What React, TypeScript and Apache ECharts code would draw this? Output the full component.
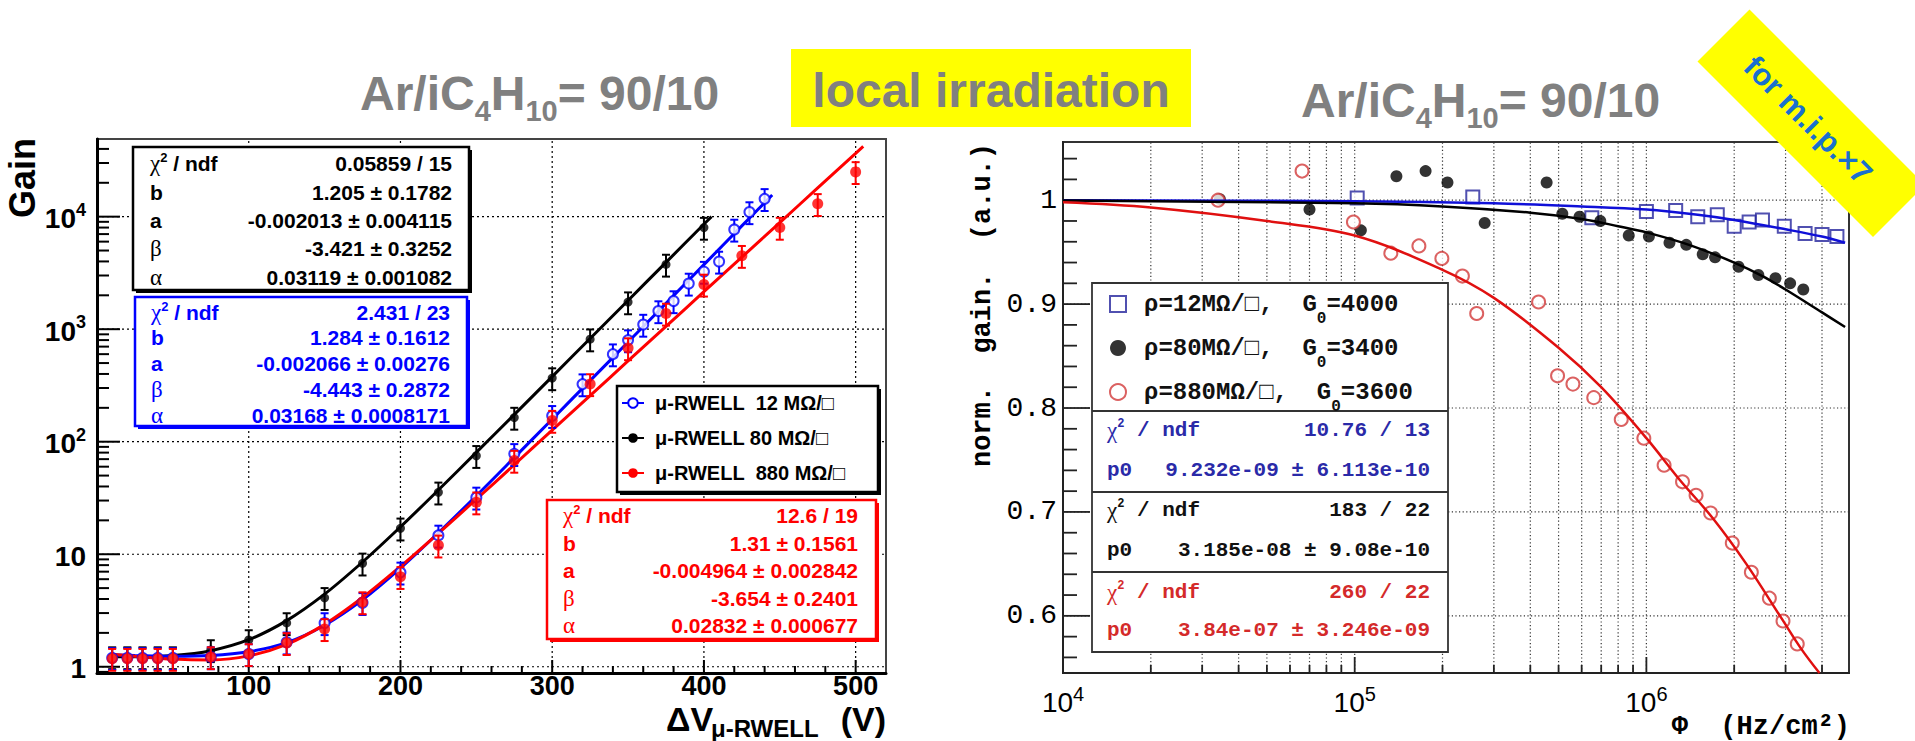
import React, { useEffect, useRef } from "react";
import * as echarts from "echarts";

const SANS = "'Liberation Sans', Arial, Helvetica, sans-serif";
const MONO = "'Liberation Mono', 'Courier New', monospace";
const SERIF = "'Liberation Serif', 'Times New Roman', serif";
const SP2 = "\u00a0\u00a0"; // two non-collapsing spaces

// ---------------- Left panel: Gain vs ΔV (μ-RWELL) ----------------
const leftXTicks = [100, 200, 300, 400, 500];
const leftYTicks = [1, 10, 100, 1000, 10000];
const leftLegendNames = ["μ-RWELL" + SP2 + "12 MΩ/□", "μ-RWELL 80 MΩ/□", "μ-RWELL" + SP2 + "880 MΩ/□"];

// 80 MΩ/□ (black)
const blackV = [10, 20, 30, 40, 50, 75, 100, 125, 150, 175, 200, 225, 250, 275, 300, 325, 350, 375, 400];
const blackGain = [1.22, 1.22, 1.22, 1.22, 1.22, 1.41, 1.73, 2.45, 4.1, 8.3, 17, 35.5, 75, 164, 368, 815, 1740, 3760, 8000];
const blackErrPct = [22, 22, 22, 22, 22, 22, 22, 22, 22, 22, 22, 22, 22, 22, 22, 22, 22, 22, 22];
const blackFitV = [10, 25, 50, 75, 100, 125, 150, 175, 200, 225, 250, 275, 300, 325, 350, 375, 400, 405];
const blackFitGain = [1.23, 1.23, 1.26, 1.39, 1.74, 2.57, 4.42, 8.52, 17.5, 37.2, 80.3, 174, 379, 826, 1800, 3925, 8560, 10000];

// 12 MΩ/□ (blue)
const blueV = [10, 20, 30, 40, 50, 75, 100, 125, 150, 175, 200, 225, 250, 275, 300, 320, 340, 350, 360, 370, 380, 390, 400, 410, 420, 430, 440];
const blueGain = [1.2, 1.2, 1.2, 1.2, 1.2, 1.22, 1.3, 1.65, 2.45, 3.7, 6.9, 14.7, 32, 78, 170, 325, 600, 800, 1100, 1450, 1780, 2550, 3250, 4000, 7700, 11000, 14400];
const blueErrPct = [22, 22, 22, 22, 22, 22, 22, 22, 22, 22, 22, 22, 22, 22, 22, 22, 22, 22, 22, 22, 22, 22, 22, 22, 22, 22, 22];
const blueFitV = [10, 25, 50, 75, 100, 125, 150, 175, 200, 225, 250, 275, 300, 325, 350, 375, 400, 425, 445];
const blueFitGain = [1.28, 1.26, 1.24, 1.26, 1.36, 1.64, 2.34, 3.93, 7.51, 15.5, 33.1, 72.2, 158.5, 349, 769, 1697, 3747, 8275, 15600];

// 880 MΩ/□ (red)
const redV = [10, 20, 30, 40, 50, 75, 100, 125, 150, 175, 200, 225, 250, 275, 300, 325, 350, 375, 400, 425, 450, 475, 500];
const redGain = [1.18, 1.18, 1.18, 1.18, 1.18, 1.22, 1.3, 1.63, 2.17, 3.76, 6.3, 12, 29, 68, 154, 326, 680, 1380, 2500, 4500, 8000, 13000, 25000];
const redErrPct = [22, 22, 22, 22, 22, 22, 22, 22, 22, 22, 22, 22, 22, 22, 22, 22, 22, 22, 22, 22, 22, 22, 22];
const redFitV = [10, 25, 50, 75, 100, 125, 150, 175, 200, 225, 250, 275, 300, 325, 350, 375, 400, 425, 450, 475, 500, 505];
const redFitGain = [1.29, 1.24, 1.17, 1.15, 1.25, 1.58, 2.38, 4.12, 7.78, 15.35, 30.8, 62.4, 126.6, 257, 522, 1060, 2152, 4368, 8866, 18000, 36500, 42100];

const leftBlackStats = ["0.05859 / 15", "1.205 ± 0.1782", "-0.002013 ± 0.004115", "-3.421 ± 0.3252", "0.03119 ± 0.001082"];
const leftBlueStats = ["2.431 / 23", "1.284 ± 0.1612", "-0.002066 ± 0.00276", "-4.443 ± 0.2872", "0.03168 ± 0.0008171"];
const leftRedStats = ["12.6 / 19", "1.31 ± 0.1561", "-0.004964 ± 0.002842", "-3.654 ± 0.2401", "0.02832 ± 0.000677"];

// ---------------- Right panel: normalised gain vs Φ ----------------
const rightXTicks = [1e4, 1e5, 1e6];
const rightYTicks = [0.6, 0.7, 0.8, 0.9, 1.0];
const rightLegendNames = ["ρ=12MΩ/□," + SP2 + "G0=4000", "ρ=80MΩ/□," + SP2 + "G0=3400", "ρ=880MΩ/□," + SP2 + "G0=3600"];

const rBlueFlux = [1.02e5, 2.54e5, 6.5e5, 1.0e6, 1.26e6, 1.5e6, 1.75e6, 2.0e6, 2.25e6, 2.5e6, 2.97e6, 3.5e6, 4.0e6, 4.5e6];
const rBlueGain = [1.002, 1.003, 0.983, 0.989, 0.99, 0.984, 0.986, 0.975, 0.979, 0.981, 0.975, 0.968, 0.967, 0.965];
const rBlackFlux = [3.45e4, 7.0e4, 1.05e5, 1.39e5, 1.75e5, 2.08e5, 2.79e5, 4.55e5, 5.15e5, 5.9e5, 6.95e5, 8.7e5, 1.02e6, 1.2e6, 1.37e6, 1.56e6, 1.72e6, 2.07e6, 2.42e6, 2.77e6, 3.11e6, 3.45e6];
const rBlackGain = [1.001, 0.991, 0.971, 1.023, 1.028, 1.017, 0.978, 1.017, 0.987, 0.984, 0.98, 0.966, 0.965, 0.959, 0.957, 0.948, 0.945, 0.936, 0.928, 0.925, 0.92, 0.914];
const rRedFlux = [3.4e4, 6.6e4, 9.9e4, 1.33e5, 1.66e5, 1.99e5, 2.34e5, 2.62e5, 4.27e5, 4.96e5, 5.6e5, 6.6e5, 8.2e5, 9.8e5, 1.15e6, 1.33e6, 1.48e6, 1.66e6, 1.97e6, 2.29e6, 2.64e6, 2.94e6, 3.29e6];
const rRedGain = [1.0, 1.028, 0.979, 0.949, 0.956, 0.944, 0.927, 0.891, 0.902, 0.831, 0.823, 0.81, 0.789, 0.771, 0.745, 0.729, 0.716, 0.699, 0.67, 0.642, 0.617, 0.595, 0.573];

const rBlueFitFlux = [1e4, 1e5, 3e5, 6e5, 1e6, 1.5e6, 2e6, 3e6, 4e6, 4.8e6];
const rBlueFitGain = [1.0, 0.999, 0.997, 0.994, 0.991, 0.986, 0.981, 0.972, 0.965, 0.959];
const rBlackFitFlux = [1e4, 1e5, 2e5, 4e5, 6e5, 8e5, 1e6, 1.4e6, 2e6, 2.5e6, 3e6, 4e6, 4.8e6];
const rBlackFitGain = [0.9997, 0.997, 0.994, 0.988, 0.982, 0.975, 0.969, 0.957, 0.94, 0.927, 0.914, 0.892, 0.878];
const rRedFitFlux = [1e4, 2e4, 5e4, 1e5, 2e5, 3e5, 5e5, 7e5, 1e6, 1.3e6, 1.7e6, 2.2e6, 2.9e6, 3.4e6, 3.92e6];
const rRedFitGain = [0.998, 0.993, 0.98, 0.966, 0.933, 0.906, 0.858, 0.82, 0.771, 0.731, 0.693, 0.65, 0.598, 0.568, 0.545];

const rightBlueStats = ["10.76 / 13", "9.232e-09 ± 6.113e-10"];
const rightBlackStats = ["183 / 22", "3.185e-08 ± 9.08e-10"];
const rightRedStats = ["260 / 22", "3.84e-07 ± 3.246e-09"];

// axis ranges
const L_XMIN = 0, L_XMAX = 520, L_YMIN = 0.88, L_YMAX = 49000;
const R_XMIN = 1e4, R_XMAX = 4.95e6, R_YMIN = 0.545, R_YMAX = 1.056;

const zip = (xs: number[], ys: number[]) => xs.map((x, i) => [x, ys[i]]);
const errData = (xs: number[], ys: number[], pct: number[]) =>
  xs.map((x, i) => [x, ys[i], ys[i] * (1 - pct[i] / 100), ys[i] * (1 + pct[i] / 100)]);

const segRender = (color: string, width: number, dash?: number[]) => (_p: any, api: any) => {
  const a = api.coord([api.value(0), api.value(1)]);
  const b = api.coord([api.value(2), api.value(3)]);
  return { type: "line", shape: { x1: a[0], y1: a[1], x2: b[0], y2: b[1] }, style: { stroke: color, lineWidth: width, lineDash: dash } };
};
const tickRender = (color: string, width: number) => (_p: any, api: any) => {
  const a = api.coord([api.value(0), api.value(1)]);
  return { type: "line", shape: { x1: a[0], y1: a[1], x2: a[0] + api.value(2), y2: a[1] + api.value(3) }, style: { stroke: color, lineWidth: width } };
};
const errRender = (color: string) => (_p: any, api: any) => {
  const x = api.value(0);
  const a = api.coord([x, api.value(2)]);
  const b = api.coord([x, api.value(3)]);
  const st = () => ({ stroke: color, lineWidth: 2 });
  return {
    type: "group",
    children: [
      { type: "line", shape: { x1: a[0], y1: a[1], x2: b[0], y2: b[1] }, style: st() },
      { type: "line", shape: { x1: a[0] - 4, y1: a[1], x2: a[0] + 4, y2: a[1] }, style: st() },
      { type: "line", shape: { x1: b[0] - 4, y1: b[1], x2: b[0] + 4, y2: b[1] }, style: st() },
    ],
  };
};

function buildOption() {
  // ---- left ticks & grid ----
  const lTicks: number[][] = [];
  const lGrid: number[][] = [];
  for (let e = -1; e <= 4; e++) {
    for (let k = 2; k <= 9; k++) {
      const v = k * Math.pow(10, e);
      if (v > L_YMIN && v < L_YMAX) lTicks.push([L_XMIN, v, 12, 0]);
    }
  }
  leftYTicks.forEach((v) => {
    lTicks.push([L_XMIN, v, 23, 0]);
    lGrid.push([L_XMIN, v, L_XMAX, v]);
  });
  for (let v = 20; v < L_XMAX; v += 20) if (v % 100 !== 0) lTicks.push([v, L_YMIN, 0, -7]);
  leftXTicks.forEach((v) => {
    lTicks.push([v, L_YMIN, 0, -13]);
    lGrid.push([v, L_YMIN, v, L_YMAX]);
  });

  // ---- right ticks & grid ----
  const rTicks: number[][] = [];
  const rGrid: number[][] = [];
  for (let e = 4; e <= 6; e++) {
    for (let k = 1; k <= 9; k++) {
      const v = k * Math.pow(10, e);
      if (v <= R_XMIN || v >= R_XMAX) continue;
      rTicks.push([v, R_YMIN, 0, k === 1 ? -16 : -8]);
      rGrid.push([v, R_YMIN, v, R_YMAX]);
    }
  }
  for (let i = 28; i <= 52; i++) {
    const v = i * 0.02;
    if (v <= R_YMIN || v >= R_YMAX) continue;
    rTicks.push([R_XMIN, v, i % 5 === 0 ? 27 : 14, 0]);
  }
  rightYTicks.forEach((v) => rGrid.push([R_XMIN, v, R_XMAX, v]));

  const expFmt = (v: number) => {
    const lg = Math.log10(v);
    const e = Math.round(lg);
    if (Math.abs(lg - e) > 1e-6) return "";
    if (e === 0) return "{b|1}";
    if (e === 1) return "{b|10}";
    return "{b|10}{s|" + e + "}";
  };

  const graphics: any[] = [];
  const txt = (x: number, y: number, style: any, extra: any = {}) =>
    graphics.push({ type: "text", x, y, z: 11, ...extra, style });

  // titles
  graphics.push({ type: "rect", z: 10, shape: { x: 791, y: 49, width: 400, height: 78 }, style: { fill: "#ffff00" } });
  txt(991, 90, { text: "local irradiation", fill: "#808080", fontFamily: SANS, fontWeight: "bold", fontSize: 48, align: "center", verticalAlign: "middle" });
  const titleRich = {
    m: { fontFamily: SANS, fontWeight: "bold", fontSize: 48, lineHeight: 64, verticalAlign: "middle", fill: "#808080" },
    s: { fontFamily: SANS, fontWeight: "bold", fontSize: 29, lineHeight: 29, verticalAlign: "bottom", fill: "#808080" },
  };
  const titleText = "{m|Ar/iC}{s|4}{m|H}{s|10}{m|= 90/10}";
  txt(360, 61, { text: titleText, rich: titleRich, align: "left", verticalAlign: "top" });
  txt(1301, 68, { text: titleText, rich: titleRich, align: "left", verticalAlign: "top" });

  // banner
  graphics.push({ type: "polygon", z: 10, shape: { points: [[1697.5, 61.5], [1749.5, 9.5], [1925, 185], [1873, 237]] }, style: { fill: "#ffff00" } });
  txt(1808, 120, { text: "for m.i.p.×7", fill: "#1a6fce", fontFamily: SANS, fontWeight: "bold", fontSize: 31, align: "center", verticalAlign: "middle" }, { rotation: -Math.PI / 4 });

  // left axis titles
  txt(22, 178, { text: "Gain", fill: "#000", fontFamily: SANS, fontWeight: "bold", fontSize: 36, align: "center", verticalAlign: "middle" }, { rotation: Math.PI / 2 });
  txt(666, 719, { text: "ΔV", fill: "#000", fontFamily: SANS, fontWeight: "bold", fontSize: 34, lineHeight: 26, align: "left", verticalAlign: "middle" });
  txt(711, 728, { text: "μ-RWELL", fill: "#000", fontFamily: SANS, fontWeight: "bold", fontSize: 24, lineHeight: 22, align: "left", verticalAlign: "middle" });
  txt(886, 719, { text: "(V)", fill: "#000", fontFamily: SANS, fontWeight: "bold", fontSize: 34, lineHeight: 26, align: "right", verticalAlign: "middle" });

  // left stats boxes
  const leftBoxes = [
    { x: 133, y: 147, w: 336, h: 143, color: "#000000", rows: [163, 192, 220, 248, 277], lx: 150, vx: 452, vals: leftBlackStats },
    { x: 135, y: 297, w: 332, h: 129, color: "#0000ff", rows: [312, 337, 363, 389, 415], lx: 151, vx: 450, vals: leftBlueStats },
    { x: 547, y: 500, w: 329, h: 139, color: "#ff0000", rows: [515, 543, 570, 598, 625], lx: 563, vx: 858, vals: leftRedStats },
  ];
  leftBoxes.forEach((b) => {
    graphics.push({ type: "rect", z: 10, shape: { x: b.x + 3, y: b.y + 3, width: b.w, height: b.h }, style: { fill: b.color } });
    graphics.push({ type: "rect", z: 10, shape: { x: b.x, y: b.y, width: b.w, height: b.h }, style: { fill: "#fff", stroke: b.color, lineWidth: 2.5 } });
    txt(b.lx, b.rows[0], {
      text: "{g|χ}{p|2}{t| / ndf}",
      align: "left",
      verticalAlign: "middle",
      rich: {
        g: { fontFamily: SERIF, fontSize: 23, lineHeight: 24, verticalAlign: "middle", fill: b.color },
        p: { fontFamily: SANS, fontWeight: "bold", fontSize: 13, lineHeight: 13, verticalAlign: "top", fill: b.color },
        t: { fontFamily: SANS, fontWeight: "bold", fontSize: 21, lineHeight: 24, verticalAlign: "middle", fill: b.color },
      },
    });
    txt(b.lx, b.rows[1], { text: "b", fill: b.color, fontFamily: SANS, fontWeight: "bold", fontSize: 21, align: "left", verticalAlign: "middle" });
    txt(b.lx, b.rows[2], { text: "a", fill: b.color, fontFamily: SANS, fontWeight: "bold", fontSize: 21, align: "left", verticalAlign: "middle" });
    txt(b.lx, b.rows[3], { text: "β", fill: b.color, fontFamily: SERIF, fontSize: 23, align: "left", verticalAlign: "middle" });
    txt(b.lx, b.rows[4], { text: "α", fill: b.color, fontFamily: SERIF, fontSize: 23, align: "left", verticalAlign: "middle" });
    b.vals.forEach((v, i) =>
      txt(b.vx, b.rows[i], { text: v, fill: b.color, fontFamily: SANS, fontWeight: "bold", fontSize: 21, align: "right", verticalAlign: "middle" })
    );
  });
  // left legend box
  graphics.push({ type: "rect", z: 10, shape: { x: 620, y: 389, width: 261, height: 106 }, style: { fill: "#000" } });
  graphics.push({ type: "rect", z: 10, shape: { x: 617, y: 386, width: 261, height: 106 }, style: { fill: "#fff", stroke: "#000", lineWidth: 2.5 } });

  // right axis titles
  txt(983, 305, { text: "norm." + SP2 + "gain." + SP2 + "(a.u.)", fill: "#000", fontFamily: MONO, fontWeight: "bold", fontSize: 27, align: "center", verticalAlign: "middle" }, { rotation: Math.PI / 2 });
  txt(1850, 727, { text: "Φ" + SP2 + "(Hz/cm²)", fill: "#000", fontFamily: MONO, fontWeight: "bold", fontSize: 27, align: "right", verticalAlign: "middle" });

  // right legend / stats box
  graphics.push({ type: "rect", z: 10, shape: { x: 1092, y: 283, width: 356, height: 369 }, style: { fill: "#fff", stroke: "#333", lineWidth: 1.8 } });
  [411, 492, 572].forEach((y) =>
    graphics.push({ type: "line", z: 10, shape: { x1: 1092, y1: y, x2: 1448, y2: y }, style: { stroke: "#333", lineWidth: 1.8 } })
  );
  const rStats = [
    { color: "#2a2aa8", rows: [430, 470], vals: rightBlueStats },
    { color: "#111111", rows: [510, 550], vals: rightBlackStats },
    { color: "#d42a2a", rows: [592, 630], vals: rightRedStats },
  ];
  rStats.forEach((s) => {
    txt(1107, s.rows[0], {
      text: "{g|χ}{p|2}{t| / ndf}",
      align: "left",
      verticalAlign: "middle",
      rich: {
        g: { fontFamily: SERIF, fontSize: 23, lineHeight: 24, verticalAlign: "middle", fill: s.color },
        p: { fontFamily: MONO, fontWeight: "bold", fontSize: 12, lineHeight: 12, verticalAlign: "top", fill: s.color },
        t: { fontFamily: MONO, fontWeight: "bold", fontSize: 21, lineHeight: 24, verticalAlign: "middle", fill: s.color },
      },
    });
    txt(1107, s.rows[1], { text: "p0", fill: s.color, fontFamily: MONO, fontWeight: "bold", fontSize: 21, align: "left", verticalAlign: "middle" });
    s.vals.forEach((v, i) =>
      txt(1430, s.rows[i], { text: v, fill: s.color, fontFamily: MONO, fontWeight: "bold", fontSize: 21, align: "right", verticalAlign: "middle" })
    );
  });

  const series: any[] = [
    // left decorations
    { type: "custom", xAxisIndex: 0, yAxisIndex: 0, z: 1, silent: true, data: lGrid, renderItem: segRender("#000", 1.2, [2, 3]) },
    { type: "custom", xAxisIndex: 0, yAxisIndex: 0, z: 3, silent: true, data: lTicks, renderItem: tickRender("#000", 2) },
    // left fits (named for the legend)
    { type: "line", name: leftLegendNames[1], xAxisIndex: 0, yAxisIndex: 0, z: 4, silent: true, smooth: 0.35, showSymbol: false, symbol: "circle", symbolSize: 9, data: zip(blackFitV, blackFitGain), lineStyle: { color: "#000", width: 3 }, itemStyle: { color: "#000" } },
    { type: "line", name: leftLegendNames[0], xAxisIndex: 0, yAxisIndex: 0, z: 4, silent: true, smooth: 0.35, showSymbol: false, symbol: "emptyCircle", symbolSize: 9, data: zip(blueFitV, blueFitGain), lineStyle: { color: "#0000ff", width: 3 }, itemStyle: { color: "#0000ff" } },
    { type: "line", name: leftLegendNames[2], xAxisIndex: 0, yAxisIndex: 0, z: 4, silent: true, smooth: 0.35, showSymbol: false, symbol: "circle", symbolSize: 9, data: zip(redFitV, redFitGain), lineStyle: { color: "#ff0000", width: 3 }, itemStyle: { color: "#ff0000" } },
    // left data points
    { type: "custom", xAxisIndex: 0, yAxisIndex: 0, z: 5, silent: true, data: errData(blackV, blackGain, blackErrPct), renderItem: errRender("#000") },
    { type: "scatter", name: "80 data", xAxisIndex: 0, yAxisIndex: 0, z: 5, silent: true, symbol: "circle", symbolSize: 9, data: zip(blackV, blackGain), itemStyle: { color: "#000" } },
    { type: "custom", xAxisIndex: 0, yAxisIndex: 0, z: 6, silent: true, data: errData(blueV, blueGain, blueErrPct), renderItem: errRender("#0000ff") },
    { type: "scatter", name: "12 data", xAxisIndex: 0, yAxisIndex: 0, z: 6, silent: true, symbol: "emptyCircle", symbolSize: 10, data: zip(blueV, blueGain), itemStyle: { color: "#0000ff", borderWidth: 2 } },
    { type: "custom", xAxisIndex: 0, yAxisIndex: 0, z: 7, silent: true, data: errData(redV, redGain, redErrPct), renderItem: errRender("#ff0000") },
    { type: "scatter", name: "880 data", xAxisIndex: 0, yAxisIndex: 0, z: 7, silent: true, symbol: "circle", symbolSize: 11, data: zip(redV, redGain), itemStyle: { color: "#ff0000" } },

    // right decorations
    { type: "custom", xAxisIndex: 1, yAxisIndex: 1, z: 1, silent: true, data: rGrid, renderItem: segRender("#333", 1.2, [1.2, 2.4]) },
    { type: "custom", xAxisIndex: 1, yAxisIndex: 1, z: 3, silent: true, data: rTicks, renderItem: tickRender("#222", 1.8) },
    // right data
    { type: "scatter", name: rightLegendNames[0], xAxisIndex: 1, yAxisIndex: 1, z: 4, silent: true, symbol: "emptyRect", symbolSize: 13, data: zip(rBlueFlux, rBlueGain), itemStyle: { color: "#24249c", borderWidth: 1.5 } },
    { type: "scatter", name: rightLegendNames[1], xAxisIndex: 1, yAxisIndex: 1, z: 4, silent: true, symbol: "circle", symbolSize: 12, data: zip(rBlackFlux, rBlackGain), itemStyle: { color: "#000" } },
    { type: "scatter", name: rightLegendNames[2], xAxisIndex: 1, yAxisIndex: 1, z: 4, silent: true, symbol: "emptyCircle", symbolSize: 13, data: zip(rRedFlux, rRedGain), itemStyle: { color: "#d23a3a", borderWidth: 1.3 } },
    // right fits
    { type: "line", name: "fit 12", xAxisIndex: 1, yAxisIndex: 1, z: 5, silent: true, smooth: 0.35, showSymbol: false, symbol: "none", data: zip(rBlueFitFlux, rBlueFitGain), lineStyle: { color: "#1010d8", width: 2.5 } },
    { type: "line", name: "fit 80", xAxisIndex: 1, yAxisIndex: 1, z: 5, silent: true, smooth: 0.35, showSymbol: false, symbol: "none", data: zip(rBlackFitFlux, rBlackFitGain), lineStyle: { color: "#000", width: 2.5 } },
    { type: "line", name: "fit 880", xAxisIndex: 1, yAxisIndex: 1, z: 5, silent: true, smooth: 0.35, showSymbol: false, symbol: "none", data: zip(rRedFitFlux, rRedFitGain), lineStyle: { color: "#e01010", width: 2.5 } },
  ];

  return {
    animation: false,
    backgroundColor: "#ffffff",
    grid: [
      { left: 97, top: 139, width: 789, height: 534, show: true, borderColor: "#444", borderWidth: 2, backgroundColor: "transparent" },
      { left: 1063, top: 142, width: 786, height: 531, show: true, borderColor: "#333", borderWidth: 2, backgroundColor: "transparent" },
    ],
    xAxis: [
      {
        type: "value", gridIndex: 0, min: L_XMIN, max: L_XMAX,
        axisLine: { show: true, onZero: false, lineStyle: { color: "#000", width: 3 } },
        axisTick: { show: false }, splitLine: { show: false },
        axisLabel: {
          customValues: leftXTicks,
          formatter: (v: number) => (v > 0 && v % 100 === 0 ? String(v) : ""),
          fontFamily: SANS, fontWeight: "bold", fontSize: 27, lineHeight: 22, color: "#000", margin: 2,
        },
      },
      {
        type: "log", logBase: 10, gridIndex: 1, min: R_XMIN, max: R_XMAX,
        axisLine: { show: true, onZero: false, lineStyle: { color: "#222", width: 2 } },
        axisTick: { show: false }, splitLine: { show: false },
        axisLabel: {
          customValues: rightXTicks,
          formatter: expFmt, margin: 11,
          rich: {
            b: { fontFamily: SANS, fontSize: 28, lineHeight: 32, verticalAlign: "bottom", color: "#000" },
            s: { fontFamily: SANS, fontSize: 20, lineHeight: 20, verticalAlign: "top", color: "#000" },
          },
        },
      },
    ],
    yAxis: [
      {
        type: "log", logBase: 10, gridIndex: 0, min: L_YMIN, max: L_YMAX,
        axisLine: { show: true, onZero: false, lineStyle: { color: "#000", width: 3 } },
        axisTick: { show: false }, splitLine: { show: false },
        axisLabel: {
          customValues: leftYTicks,
          formatter: expFmt, margin: 11,
          rich: {
            b: { fontFamily: SANS, fontWeight: "bold", fontSize: 28, lineHeight: 32, verticalAlign: "bottom", color: "#000" },
            s: { fontFamily: SANS, fontWeight: "bold", fontSize: 18, lineHeight: 18, verticalAlign: "top", color: "#000" },
          },
        },
      },
      {
        type: "value", gridIndex: 1, min: R_YMIN, max: R_YMAX,
        axisLine: { show: true, onZero: false, lineStyle: { color: "#222", width: 2 } },
        axisTick: { show: false }, splitLine: { show: false },
        axisLabel: {
          customValues: rightYTicks,
          formatter: (v: number) => {
            if (Math.abs(v - 1) < 1e-9) return "1";
            return Math.abs(v * 10 - Math.round(v * 10)) < 1e-6 ? v.toFixed(1) : "";
          },
          fontFamily: MONO, fontSize: 28, color: "#000", margin: 6,
        },
      },
    ],
    legend: [
      {
        orient: "vertical", left: 621, top: 392, itemWidth: 22, itemHeight: 12, itemGap: 13, padding: 0, z: 20,
        selectedMode: false, data: leftLegendNames,
        textStyle: { fontFamily: SANS, fontWeight: "bold", fontSize: 20, lineHeight: 22, color: "#000", padding: [0, 0, 0, 6] },
      },
      {
        orient: "vertical", left: 1109, top: 292, itemWidth: 16, itemHeight: 16, itemGap: 9, padding: 0, z: 20,
        selectedMode: false, data: rightLegendNames,
        formatter: (name: string) => {
          const parts = name.split("G0");
          return "{m|" + parts[0] + "G}{sub|0}{m|" + parts[1] + "}";
        },
        textStyle: {
          padding: [0, 0, 0, 13],
          rich: {
            m: { fontFamily: MONO, fontWeight: "bold", fontSize: 24, lineHeight: 46, verticalAlign: "middle", color: "#111" },
            sub: { fontFamily: MONO, fontWeight: "bold", fontSize: 16, lineHeight: 16, verticalAlign: "bottom", color: "#111" },
          },
        },
      },
    ],
    graphic: { elements: graphics },
    series,
  };
}

export default function App() {
  const ref = useRef<HTMLDivElement>(null);
  useEffect(() => {
    if (!ref.current) return;
    const chart = echarts.init(ref.current, undefined, { renderer: "svg" });
    chart.setOption(buildOption() as any);
    return () => chart.dispose();
  }, []);
  return (
    <div
      ref={ref}
      style={{ position: "fixed", left: 0, top: 0, width: 1915, height: 741, background: "#fff" }}
    />
  );
}
